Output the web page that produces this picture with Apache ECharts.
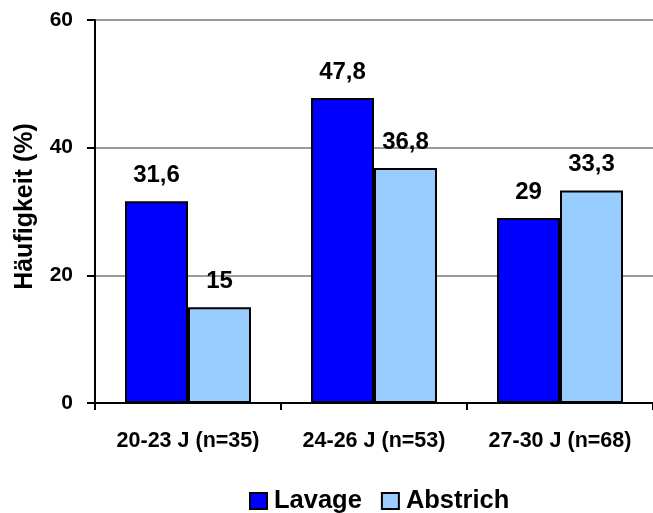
<!DOCTYPE html>
<html>
<head>
<meta charset="utf-8">
<script src="https://cdn.jsdelivr.net/npm/echarts@6/dist/echarts.min.js"></script>
<style>
  html, body { margin: 0; padding: 0; background: #fff; }
  #chart { width: 653px; height: 513px; }
</style>
</head>
<body>
<div id="chart"></div>
<script>
// Altersgruppen und Häufigkeiten (%)
const categories = ['20-23 J (n=35)', '24-26 J (n=53)', '27-30 J (n=68)'];
const lavage = [31.6, 47.8, 29];
const abstrich = [15, 36.8, 33.3];
const seriesNames = ['Lavage', 'Abstrich'];
const yAxisTitle = 'Häufigkeit (%)';

const FONT = '"Liberation Sans", Arial, sans-serif';

function fmt(v) {
  return String(v).replace('.', ',');
}

const chart = echarts.init(document.getElementById('chart'), null, { renderer: 'canvas' });

const labelStyle = {
  show: true,
  position: 'top',
  distance: 14,
  fontFamily: FONT,
  fontWeight: 'bold',
  fontSize: 24,
  color: '#000',
  formatter: p => fmt(p.value)
};

chart.setOption({
  animation: false,
  backgroundColor: '#fff',
  grid: { left: 95, right: -5, top: 20, bottom: 110, containLabel: false },
  legend: {
    data: seriesNames,
    left: 244,
    top: 483,
    icon: 'rect',
    itemWidth: 17,
    itemHeight: 16,
    itemGap: 19,
    textStyle: { fontFamily: FONT, fontWeight: 'bold', fontSize: 25.5, color: '#000', padding: [0, 0, 0, 2] }
  },
  xAxis: {
    type: 'category',
    data: categories,
    boundaryGap: true,
    axisLine: { lineStyle: { color: '#000', width: 2 } },
    axisTick: { show: true, length: 7, lineStyle: { color: '#000', width: 2 } },
    axisLabel: { margin: 27, fontFamily: FONT, fontWeight: 'bold', fontSize: 21.5, color: '#000' },
    splitLine: { show: false }
  },
  yAxis: {
    type: 'value',
    min: 0,
    max: 60,
    interval: 20,
    name: yAxisTitle,
    nameLocation: 'middle',
    nameGap: 57,
    nameRotate: 90,
    nameTextStyle: { fontFamily: FONT, fontWeight: 'bold', fontSize: 25, color: '#000', padding: [0, 0, 0, 10] },
    axisLine: { show: true, lineStyle: { color: '#000', width: 2 } },
    axisTick: { show: true, inside: false, length: 8, lineStyle: { color: '#000', width: 2 } },
    axisLabel: { margin: 22, fontFamily: FONT, fontWeight: 'bold', fontSize: 21, color: '#000' },
    splitLine: { show: true, lineStyle: { color: '#9a9a9a', width: 2 } }
  },
  series: [
    {
      name: seriesNames[0],
      type: 'bar',
      data: lavage,
      barWidth: 63,
      barGap: '0%',
      itemStyle: { color: '#0000FF', borderColor: '#000', borderWidth: 2 },
      label: labelStyle
    },
    {
      name: seriesNames[1],
      type: 'bar',
      data: abstrich,
      barWidth: 63,
      barGap: '0%',
      itemStyle: { color: '#99CCFF', borderColor: '#000', borderWidth: 2 },
      label: labelStyle
    }
  ]
});
</script>
</body>
</html>
